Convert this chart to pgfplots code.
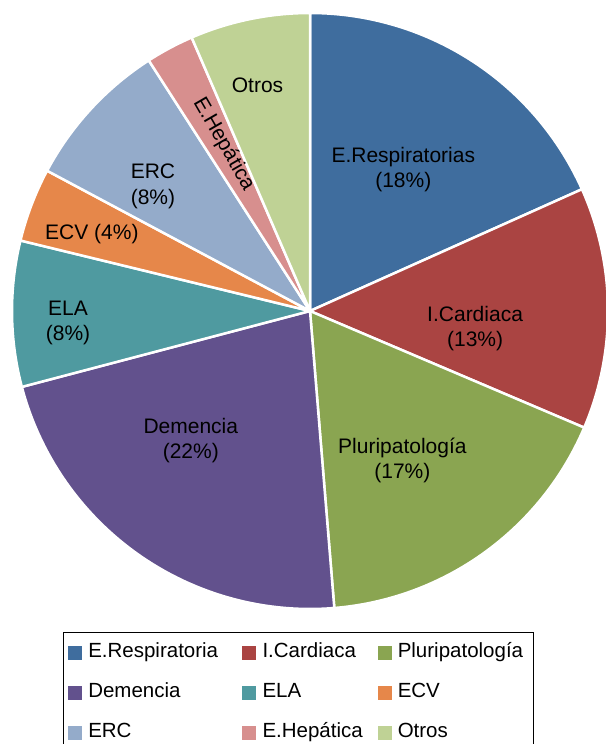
\documentclass[border=0pt]{standalone}
\usepackage{pgfplots}
\usepackage{pgfplotstable}
\pgfplotsset{compat=1.18}
\usepackage{fontspec}
\setmainfont{Liberation Sans}

\definecolor{cA}{HTML}{3F6D9E}
\definecolor{cB}{HTML}{AA4442}
\definecolor{cC}{HTML}{8AA551}
\definecolor{cD}{HTML}{62518D}
\definecolor{cE}{HTML}{4F9AA0}
\definecolor{cF}{HTML}{E6874A}
\definecolor{cG}{HTML}{94ABCA}
\definecolor{cH}{HTML}{D78F8E}
\definecolor{cI}{HTML}{BFD295}

% percentages, clockwise from 12 o'clock
\pgfplotstableread{
value color
18.3 cA
13.1 cB
17.3 cC
22.2 cD
7.9 cE
4.0 cF
8.1 cG
2.6 cH
6.5 cI
}\piedata

\begin{document}
\begin{tikzpicture}
\begin{axis}[
  scale only axis,
  width=596bp, height=596bp,
  xmin=-1, xmax=1, ymin=-1, ymax=1,
  hide axis,
  clip=false,
  legend columns=3,
  legend cell align=left,
  legend image code/.code={\fill[#1,draw=none] (0bp,-7bp) rectangle (14bp,7bp); \path (19bp,0bp);},
  legend style={
    at={(rel axis cs:0.0856,-0.0386)}, anchor=north west,
    draw=black, line width=1bp,
    font=\fontsize{20.5bp}{24bp}\selectfont,
    inner xsep=4.5bp, inner ysep=10bp,
    column sep=0bp, row sep=20bp,
    nodes={inner sep=0bp, text height=15bp, text depth=5bp},
  },
  legend entries={
    \makebox[154bp][l]{E.Respiratoria},
    \makebox[115bp][l]{I.Cardiaca},
    \makebox[131bp][l]{Pluripatología},
    \makebox[154bp][l]{Demencia},
    \makebox[115bp][l]{ELA},
    \makebox[131bp][l]{ECV},
    \makebox[154bp][l]{ERC},
    \makebox[115bp][l]{E.Hepática},
    \makebox[131bp][l]{Otros}},
]
\xdef\cum{0}
\pgfplotsforeachungrouped \i in {0,...,8}{
  \pgfplotstablegetelem{\i}{value}\of\piedata
  \let\sliceval\pgfplotsretval
  \pgfplotstablegetelem{\i}{color}\of\piedata
  \let\slicecol\pgfplotsretval
  \pgfmathsetmacro\sA{\cum*3.6}
  \pgfmathsetmacro\sB{(\cum+\sliceval)*3.6}
  \pgfmathparse{\cum+\sliceval}\xdef\cum{\pgfmathresult}
  \edef\doslice{\noexpand\addplot[fill=\slicecol, draw=white, line width=2.5bp, line join=round,
     domain=\sA:\sB, samples=60] ({sin(x)},{cos(x)}) -- (axis cs:0,0) -- cycle;}
  \doslice
}

\begin{scope}[every node/.style={font=\fontsize{21bp}{25.5bp}\selectfont, align=center, inner sep=0pt}]
\node at (axis cs:0.313,0.475) {E.Respiratorias\\(18\%)};
\node at (axis cs:0.554,-0.059) {I.Cardiaca\\(13\%)};
\node at (axis cs:0.310,-0.501) {Pluripatología\\(17\%)};
\node at (axis cs:-0.400,-0.434) {Demencia\\(22\%)};
\node at (axis cs:-0.812,-0.040) {ELA\\(8\%)};
\node at (axis cs:-0.732,0.257) {ECV (4\%)};
\node at (axis cs:-0.527,0.419) {ERC\\(8\%)};
\node[rotate=-60] at (axis cs:-0.290,0.560) {E.Hepática};
\node at (axis cs:-0.176,0.758) {Otros};
\end{scope}
\end{axis}
\pgfresetboundingbox
\path[use as bounding box] (-12bp,-135bp) rectangle (594bp,609bp);
\end{tikzpicture}
\end{document}
